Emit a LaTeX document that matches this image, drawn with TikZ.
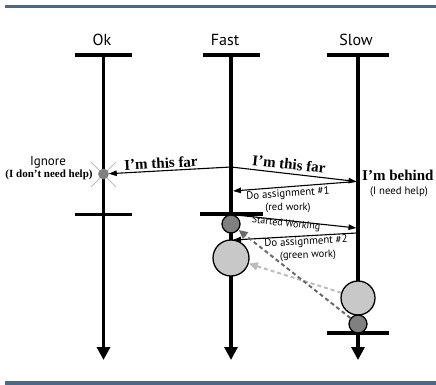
\documentclass[tikz,border=0pt]{standalone}
\usepackage{fontspec}
\setmainfont{Liberation Serif}
\setsansfont{PT Sans}
\usetikzlibrary{arrows.meta}
\definecolor{rulecol}{HTML}{4D6886}
\definecolor{darkdot}{HTML}{808080}
\definecolor{lightdot}{HTML}{C8C8C8}
\definecolor{darkdash}{HTML}{6A6A6A}
\definecolor{lightdash}{HTML}{BDBDBD}
\begin{document}
\begin{tikzpicture}[x=1pt,y=-1pt,
  rulebar/.style={fill=rulecol},
  title/.style={font=\sffamily\fontsize{16}{18}\selectfont},
  hbar/.style={fill=black, inner sep=0pt, minimum width=57pt, minimum height=3.3pt},
  life/.style={line width=3.2pt, -{Triangle[length=13pt,width=13pt]}},
  msg/.style={line width=1.1pt, -{Triangle[length=8pt,width=5.5pt]}},
  smalldot/.style={circle, draw=black, line width=1.3pt, fill=darkdot, minimum size=18pt, inner sep=0pt},
  bigdot/.style={circle, draw=black, line width=1.3pt, fill=lightdot, minimum size=#1, inner sep=0pt},
  okdot/.style={circle, draw=gray, line width=0.6pt, fill=darkdot, minimum size=10pt, inner sep=0pt},
  cross/.style={draw=lightdash, line width=0.8pt},
  talk/.style={font=\bfseries\fontsize{15}{17}\selectfont, inner sep=0pt},
  note/.style={font=\sffamily\fontsize{10.5}{12}\selectfont, inner sep=0pt},
  bignote/.style={font=\sffamily\fontsize{10.8}{13}\selectfont, inner sep=0pt},
  dashdark/.style={draw=darkdash, line width=2pt, dash pattern=on 4pt off 3pt, -{Triangle[length=9pt,width=8pt]}},
  dashlight/.style={draw=lightdash, line width=2pt, dash pattern=on 4pt off 3pt, -{Triangle[length=9pt,width=8pt]}}
]
\useasboundingbox (0,0) rectangle (436,385);

% rules at top and bottom
\fill[rulebar] (5,5) rectangle (436,8.5);
\fill[rulebar] (5,381) rectangle (436,385);

% column titles
\node[title] (tok)   at (102,40) {Ok};
\node[title] (tfast) at (225,40) {Fast};
\node[title] (tslow) at (356,40) {Slow};

% start and end bars
\node[hbar] (okb1) at (103.5,55) {};
\node[hbar] (fab1) at (231,55) {};
\node[hbar, minimum width=62pt] (slb1) at (358,55) {};
\node[hbar] (okb2) at (103.5,214.5) {};
\node[hbar, minimum width=63pt] (fab2) at (231.5,214) {};
\node[hbar, minimum width=62pt] (slb2) at (358,333) {};

% ends of the lifelines
\coordinate (okend) at (103.5,360);
\coordinate (faend) at (231,360);
\coordinate (slend) at (358,360);

% ignore mark on the Ok line
\draw[cross] (91,162) -- (116,187);
\draw[cross] (116,162) -- (91,187);

% lifelines
\draw[life] (okb1.center) -- (okend);
\draw[life] (fab1.center) -- (faend);
\draw[life] (slb1.center) -- (slend);

% activity dots
\node[okdot] (okc) at (103.5,174) {};
\node[smalldot] (fs) at (231,224) {};
\node[bigdot=36pt] (fb) at (231,258) {};
\node[bigdot=34pt] (sb) at (358,298) {};
\node[smalldot] (ss) at (358,324) {};

% anchor points of the messages
\coordinate (f1) at (231,167);
\coordinate (s1) at (356.5,181.5);
\coordinate (f2) at (233,191);
\coordinate (f3) at (236,215);
\coordinate (s3) at (356.5,228);
\coordinate (s4) at (356.5,233);
\coordinate (f4) at (233,240);

% messages
\draw[msg] (f1) -- (okc);
\draw[msg] (f1) -- (s1);
\draw[msg] (s1) -- (f2);
\draw[msg] (f3) -- (s3);
\draw[msg] (s4) -- (f4);

% work handed back
\draw[dashlight] (sb) -- (fb);
\draw[dashdark] (ss) -- (fs);

% labels
\node[note, font=\sffamily\fontsize{13}{15}\selectfont] (lign) at (48,162) {Ignore};
\node[talk, font=\bfseries\fontsize{11}{12}\selectfont] (lnoh) at (49,175) {(I don’t need help)};
\node[talk, rotate=3] (lfar1) at (161,163) {I’m this far};
\node[talk, rotate=-6] (lfar2) at (289,164) {I’m this far};
\node[talk, anchor=west] (lbeh) at (362,175) {I’m behind};
\node[note, font=\sffamily\fontsize{10.8}{12}\selectfont] (lneed) at (399,192) {(I need help)};
\node[bignote, rotate=4] (ldo1) at (288,194) {Do assignment \#1};
\node[note] (lred) at (288,207.5) {(red work)};
\node[note, font=\sffamily\fontsize{10}{12}\selectfont, rotate=-6] (lstart) at (286,224) {Started Working};
\node[bignote, rotate=3] (ldo2) at (306,242) {Do assignment \#2};
\node[note, rotate=2] (lgreen) at (308,255.5) {(green work)};
\end{tikzpicture}
\end{document}
